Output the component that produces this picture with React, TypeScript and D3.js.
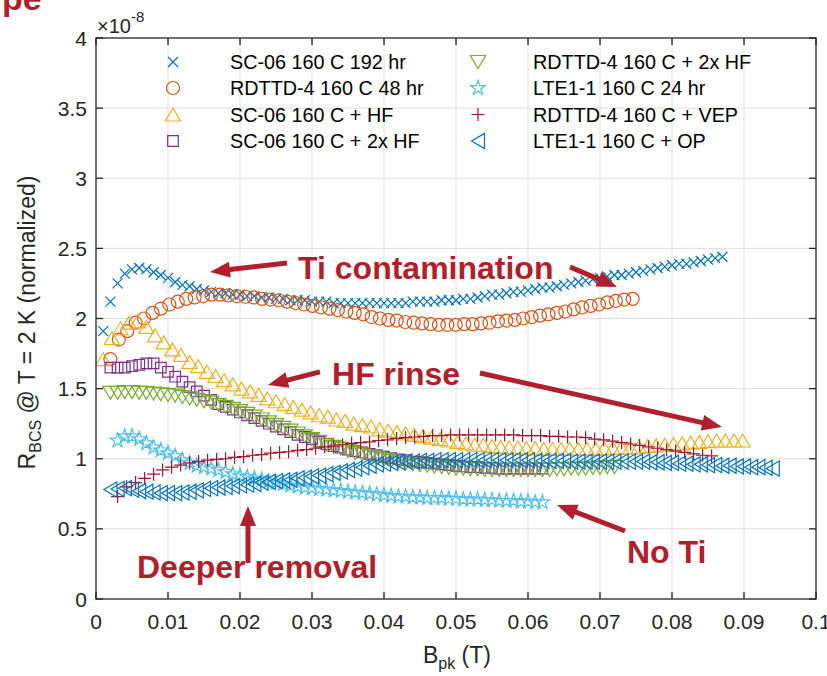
import React from "react";
import * as d3 from "d3";

// ---- axis ticks ----
const xTickValues = [0, 0.01, 0.02, 0.03, 0.04, 0.05, 0.06, 0.07, 0.08, 0.09, 0.1];
const xTickLabels = ["0", "0.01", "0.02", "0.03", "0.04", "0.05", "0.06", "0.07", "0.08", "0.09", "0.1"];
const yTickValues = [0, 0.5, 1, 1.5, 2, 2.5, 3, 3.5, 4];
const yTickLabels = ["0", "0.5", "1", "1.5", "2", "2.5", "3", "3.5", "4"];

// ---- series (normalized R_BCS, units of 1e-8) ; each sweep: first field, field step, values ----
const sc06_192hr = [
  1.91, 2.12, 2.25, 2.32, 2.35, 2.36, 2.35, 2.33, 2.31, 2.29,
  2.26, 2.24, 2.23, 2.21, 2.2, 2.19, 2.18, 2.18, 2.17, 2.17,
  2.16, 2.16, 2.15, 2.15, 2.14, 2.14, 2.13, 2.13, 2.13, 2.12,
  2.12, 2.12, 2.11, 2.11, 2.11, 2.11, 2.11, 2.11, 2.11, 2.11,
  2.11, 2.11, 2.11, 2.12, 2.12, 2.12, 2.12, 2.13, 2.13, 2.13,
  2.14, 2.14, 2.15, 2.16, 2.17, 2.17, 2.18, 2.19, 2.19, 2.2,
  2.21, 2.22, 2.22, 2.23, 2.24, 2.25, 2.26, 2.27, 2.28, 2.29,
  2.3, 2.31, 2.31, 2.32, 2.33, 2.34, 2.35, 2.36, 2.37, 2.38,
  2.39, 2.39, 2.4, 2.41, 2.42, 2.43, 2.44,
];
const rdttd4_48hr = [
  1.71, 1.85, 1.91, 1.97, 2.0, 2.04, 2.07, 2.1, 2.12, 2.14,
  2.15, 2.16, 2.17, 2.17, 2.165, 2.16, 2.155, 2.15, 2.14, 2.135,
  2.13, 2.12, 2.11, 2.1, 2.09, 2.08, 2.07, 2.06, 2.05, 2.04,
  2.03, 2.01, 2.0, 1.99, 1.985, 1.975, 1.97, 1.965, 1.96, 1.955,
  1.955, 1.955, 1.96, 1.96, 1.965, 1.97, 1.98, 1.985, 1.99, 2.0,
  2.01, 2.02, 2.03, 2.04, 2.05, 2.065, 2.08, 2.09, 2.1, 2.115,
  2.125, 2.135, 2.14,
];
const sc06_hf = [
  1.71, 1.86, 1.93, 1.97, 1.98, 1.94, 1.88, 1.83, 1.78, 1.74,
  1.69, 1.66, 1.62, 1.59, 1.56, 1.53, 1.5, 1.48, 1.455, 1.43,
  1.41, 1.39, 1.37, 1.35, 1.33, 1.31, 1.3, 1.28, 1.27, 1.25,
  1.24, 1.23, 1.21, 1.2, 1.19, 1.18, 1.17, 1.16, 1.15, 1.14,
  1.13, 1.12, 1.11, 1.1, 1.1, 1.09, 1.085, 1.08, 1.08, 1.075,
  1.075, 1.07, 1.07, 1.07, 1.07, 1.07, 1.07, 1.07, 1.075, 1.075,
  1.08, 1.08, 1.085, 1.09, 1.095, 1.1, 1.105, 1.11, 1.115, 1.12,
  1.125, 1.13, 1.13, 1.13, 1.13,
];
const sc06_2xhf = [
  1.65, 1.65, 1.65, 1.66, 1.67, 1.68, 1.68, 1.65, 1.62, 1.585,
  1.55, 1.51, 1.48, 1.45, 1.42, 1.39, 1.37, 1.35, 1.33, 1.31,
  1.29, 1.27, 1.25, 1.23, 1.21, 1.19, 1.17, 1.155, 1.14, 1.12,
  1.105, 1.09, 1.08, 1.065, 1.055, 1.045, 1.035, 1.025, 1.015, 1.005,
  0.995, 0.99, 0.98, 0.975, 0.97, 0.965, 0.96, 0.955, 0.95, 0.945,
  0.94, 0.94, 0.935, 0.935, 0.93, 0.93, 0.93, 0.93, 0.93, 0.93,
  0.93,
];
const rdttd4_2xhf = [
  1.47, 1.47, 1.475, 1.475, 1.47, 1.47, 1.465, 1.46, 1.455, 1.45,
  1.44, 1.43, 1.42, 1.41, 1.4, 1.385, 1.37, 1.355, 1.34, 1.32,
  1.3, 1.28, 1.26, 1.24, 1.22, 1.2, 1.18, 1.16, 1.14, 1.12,
  1.1, 1.085, 1.07, 1.055, 1.04, 1.03, 1.015, 1.005, 0.995, 0.985,
  0.975, 0.965, 0.96, 0.955, 0.95, 0.945, 0.94, 0.935, 0.93, 0.93,
  0.925, 0.925, 0.92, 0.92, 0.92, 0.92, 0.92, 0.92, 0.92, 0.92,
  0.92, 0.92, 0.925, 0.925, 0.93, 0.93, 0.93, 0.935, 0.935, 0.94,
  0.94,
];
const lte11_24hr = [
  1.13, 1.16, 1.16, 1.14, 1.11, 1.08, 1.06, 1.04, 1.02, 0.99,
  0.97, 0.95, 0.94, 0.93, 0.92, 0.905, 0.89, 0.88, 0.87, 0.86,
  0.85, 0.84, 0.83, 0.82, 0.81, 0.8, 0.795, 0.79, 0.785, 0.78,
  0.775, 0.77, 0.765, 0.76, 0.755, 0.75, 0.745, 0.74, 0.735, 0.73,
  0.73, 0.725, 0.725, 0.72, 0.72, 0.72, 0.715, 0.715, 0.71, 0.71,
  0.71, 0.705, 0.705, 0.7, 0.7, 0.7, 0.695, 0.695, 0.69, 0.69,
];
const rdttd4_vep = [
  0.73, 0.8, 0.83, 0.86, 0.89, 0.92, 0.94, 0.955, 0.97, 0.98,
  0.99, 0.995, 1.0, 1.01, 1.015, 1.025, 1.03, 1.04, 1.045, 1.05,
  1.06, 1.065, 1.075, 1.085, 1.09, 1.1, 1.11, 1.115, 1.12, 1.13,
  1.135, 1.145, 1.15, 1.155, 1.16, 1.165, 1.165, 1.17, 1.17, 1.17,
  1.17, 1.17, 1.17, 1.17, 1.17, 1.165, 1.165, 1.165, 1.16, 1.16,
  1.155, 1.155, 1.15, 1.14, 1.135, 1.125, 1.115, 1.105, 1.095, 1.085,
  1.075, 1.065, 1.055, 1.045, 1.035, 1.025, 1.02,
];
const lte11_op = [
  0.78, 0.785, 0.79, 0.78, 0.77, 0.765, 0.76, 0.755, 0.755, 0.755,
  0.76, 0.765, 0.775, 0.785, 0.79, 0.795, 0.8, 0.805, 0.81, 0.815,
  0.82, 0.83, 0.835, 0.84, 0.845, 0.85, 0.86, 0.865, 0.875, 0.88,
  0.89, 0.9, 0.91, 0.92, 0.93, 0.94, 0.95, 0.96, 0.965, 0.97,
  0.975, 0.98, 0.98, 0.985, 0.985, 0.99, 0.99, 0.99, 0.99, 0.99,
  0.99, 0.99, 0.99, 0.99, 0.99, 0.99, 0.99, 0.99, 0.99, 0.985,
  0.985, 0.985, 0.985, 0.985, 0.98, 0.98, 0.98, 0.98, 0.98, 0.98,
  0.98, 0.98, 0.98, 0.98, 0.98, 0.975, 0.975, 0.97, 0.97, 0.965,
  0.965, 0.96, 0.96, 0.955, 0.955, 0.95, 0.95, 0.945, 0.945, 0.94,
  0.94, 0.935, 0.93,
];

const seriesNames = [
  "SC-06 160 C 192 hr",
  "RDTTD-4 160 C 48 hr",
  "SC-06 160 C + HF",
  "SC-06 160 C + 2x HF",
  "RDTTD-4 160 C + 2x HF",
  "LTE1-1 160 C 24 hr",
  "RDTTD-4 160 C + VEP",
  "LTE1-1 160 C + OP",
];
const seriesValues = [sc06_192hr, rdttd4_48hr, sc06_hf, sc06_2xhf, rdttd4_2xhf, lte11_24hr, rdttd4_vep, lte11_op];
const sweepStart = [0.001, 0.002, 0.001, 0.002, 0.002, 0.003, 0.003, 0.002];
const sweepStep = [0.001, 0.00117, 0.0012, 0.001, 0.001, 0.001, 0.00125, 0.001];
const seriesColors = ["#0072BD", "#D95319", "#EDB120", "#7E2F8E", "#77AC30", "#4DBEEE", "#A2142F", "#0072BD"];
const seriesMarkers = ["x", "o", "^", "s", "v", "p", "+", "<"];

// ---- annotations (data coordinates) ----
const annoColor = "#B01F2B";
const annoTexts = [
  { text: "Ti contamination", x: 0.02806, y: 2.282 },
  { text: "HF rinse", x: 0.03278, y: 1.526 },
  { text: "Deeper removal", x: 0.005694, y: 0.1497 },
  { text: "No Ti", x: 0.07375, y: 0.2567 },
];
const annoArrows = [
  { from: [0.02653, 2.396], to: [0.01583, 2.332] },
  { from: [0.06583, 2.367], to: [0.07236, 2.225] },
  { from: [0.03111, 1.619], to: [0.02389, 1.526] },
  { from: [0.05333, 1.611], to: [0.08694, 1.226] },
  { from: [0.02111, 0.257], to: [0.02111, 0.663] },
  { from: [0.07347, 0.485], to: [0.06403, 0.67] },
];

function starPath(R: number): string {
  const r = R * 0.382;
  const pts: string[] = [];
  for (let i = 0; i < 10; i++) {
    const a = (-90 + i * 36) * (Math.PI / 180);
    const rad = i % 2 === 0 ? R : r;
    pts.push(`${(rad * Math.cos(a)).toFixed(2)},${(rad * Math.sin(a)).toFixed(2)}`);
  }
  return "M" + pts.join("L") + "Z";
}

const markerPath: Record<string, string> = {
  x: "M-5,-5L5,5M-5,5L5,-5",
  o: "M6.5,0A6.5,6.5 0 1 1 -6.5,0A6.5,6.5 0 1 1 6.5,0Z",
  "^": "M0,-6.5L7.6,6.5L-7.6,6.5Z",
  s: "M-5.3,-5.3H5.3V5.3H-5.3Z",
  v: "M-7.6,-6.5H7.6L0,6.5Z",
  p: starPath(7.6),
  "+": "M-6.5,0H6.5M0,-6.5V6.5",
  "<": "M-6.5,0L6.5,-7.6V7.6Z",
};

function Arrow({ x1, y1, x2, y2 }: { x1: number; y1: number; x2: number; y2: number }) {
  const dx = x2 - x1;
  const dy = y2 - y1;
  const len = Math.hypot(dx, dy);
  const ux = dx / len;
  const uy = dy / len;
  const headLen = 20;
  const headHalf = 8;
  const bx = x2 - ux * headLen;
  const by = y2 - uy * headLen;
  const px = -uy;
  const py = ux;
  return (
    <g>
      <line x1={x1} y1={y1} x2={bx + ux * 2} y2={by + uy * 2} stroke={annoColor} strokeWidth={5} />
      <path
        d={`M${x2},${y2}L${bx + px * headHalf},${by + py * headHalf}L${bx - px * headHalf},${by - py * headHalf}Z`}
        fill={annoColor}
      />
    </g>
  );
}

export default function App() {
  const left = 96;
  const right = 816;
  const top = 38;
  const bottom = 599;
  const x = d3.scaleLinear().domain([0, 0.1]).range([left, right]);
  const y = d3.scaleLinear().domain([0, 4]).range([bottom, top]);
  const axisColor = "#262626";
  const gridColor = "#dedede";
  const font = "'Liberation Sans', Arial, Helvetica, sans-serif";
  const tickLen = 7;

  const series = seriesValues.map((vals, si) =>
    vals.map((v, i) => [sweepStart[si] + i * sweepStep[si], v] as [number, number])
  );

  const legendCols = [173, 478];
  const legendTextCols = [230, 533];
  const legendRows = [62, 88, 114.5, 141];

  return (
    <svg
      width={827}
      height={676}
      style={{ position: "absolute", left: 0, top: 0, background: "#fff" }}
      fontFamily={font}
    >
      <rect x={0} y={0} width={827} height={676} fill="#fff" />
      {/* heading above the figure, running off the top edge */}
      <text x={2} y={10} fontSize={34} fontWeight="bold" fill={annoColor}>
        pe
      </text>

      {/* grid */}
      <g stroke={gridColor} strokeWidth={1}>
        {xTickValues.slice(1, -1).map((t) => (
          <line key={"gx" + t} x1={x(t)} x2={x(t)} y1={top} y2={bottom} />
        ))}
        {yTickValues.slice(1, -1).map((t) => (
          <line key={"gy" + t} x1={left} x2={right} y1={y(t)} y2={y(t)} />
        ))}
      </g>

      {/* data */}
      <g fill="none" strokeWidth={1.2} strokeLinejoin="miter">
        {series.map((pts, si) => (
          <g key={"s" + si} stroke={seriesColors[si]}>
            {pts.map(([px, py], i) => (
              <path key={i} d={markerPath[seriesMarkers[si]]} transform={`translate(${x(px)},${y(py)})`} />
            ))}
          </g>
        ))}
      </g>

      {/* axes box and ticks */}
      <g stroke={axisColor} strokeWidth={1.3} fill="none">
        <rect x={left} y={top} width={right - left} height={bottom - top} />
        {xTickValues.map((t) => (
          <g key={"tx" + t}>
            <line x1={x(t)} x2={x(t)} y1={bottom} y2={bottom - tickLen} />
            <line x1={x(t)} x2={x(t)} y1={top} y2={top + tickLen} />
          </g>
        ))}
        {yTickValues.map((t) => (
          <g key={"ty" + t}>
            <line x1={left} x2={left + tickLen} y1={y(t)} y2={y(t)} />
            <line x1={right} x2={right - tickLen} y1={y(t)} y2={y(t)} />
          </g>
        ))}
      </g>

      {/* tick labels */}
      <g fill={axisColor} fontSize={21}>
        {xTickValues.map((t, i) => (
          <text key={"lx" + t} x={x(t)} y={629} textAnchor="middle">
            {xTickLabels[i]}
          </text>
        ))}
        {yTickValues.map((t, i) => (
          <text key={"ly" + t} x={87} y={y(t) + 7.5} textAnchor="end">
            {yTickLabels[i]}
          </text>
        ))}
      </g>

      {/* exponent */}
      <text x={97} y={33} fontSize={20} fill={axisColor}>
        ×10
        <tspan fontSize={15} dy={-11}>
          -8
        </tspan>
      </text>

      {/* axis labels */}
      <text x={457} y={663} textAnchor="middle" fontSize={23} fill={axisColor}>
        B
        <tspan fontSize={16} dy={6}>
          pk
        </tspan>
        <tspan dy={-6}> (T)</tspan>
      </text>
      <text
        transform={`translate(35,${(top + bottom) / 2 + 4}) rotate(-90)`}
        textAnchor="middle"
        fontSize={23}
        fill={axisColor}
      >
        R
        <tspan fontSize={16} dy={6}>
          BCS
        </tspan>
        <tspan dy={-6}> @ T = 2 K (normalized)</tspan>
      </text>

      {/* legend */}
      <g>
        {seriesNames.map((name, i) => {
          const col = Math.floor(i / 4);
          const row = i % 4;
          return (
            <g key={"lg" + i}>
              <path
                d={markerPath[seriesMarkers[i]]}
                transform={`translate(${legendCols[col]},${legendRows[row]})`}
                fill="none"
                stroke={seriesColors[i]}
                strokeWidth={1.2}
              />
              <text x={legendTextCols[col]} y={legendRows[row] + 7} fontSize={19.8} fill="#000">
                {name}
              </text>
            </g>
          );
        })}
      </g>

      {/* annotations */}
      <g>
        {annoArrows.map((a, i) => (
          <Arrow key={"ar" + i} x1={x(a.from[0])} y1={y(a.from[1])} x2={x(a.to[0])} y2={y(a.to[1])} />
        ))}
        {annoTexts.map((a, i) => (
          <text key={"at" + i} x={x(a.x)} y={y(a.y)} fontSize={32} fontWeight="bold" fill={annoColor}>
            {a.text}
          </text>
        ))}
      </g>
    </svg>
  );
}
